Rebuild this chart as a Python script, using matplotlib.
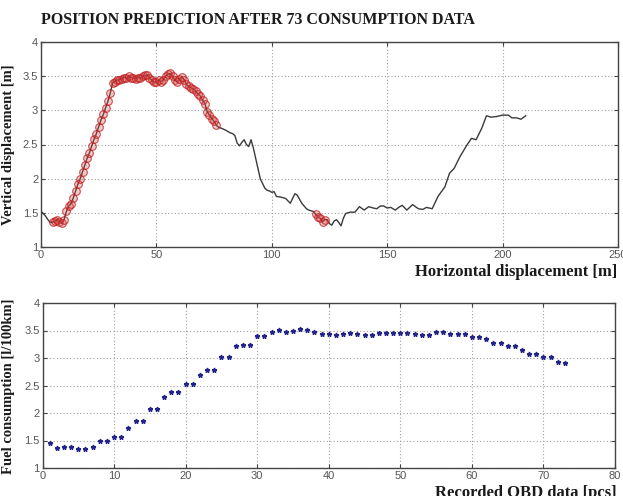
import numpy as np
import matplotlib
matplotlib.use("Agg")
import matplotlib.pyplot as plt

# ---- Top chart: trajectory (horizontal vs vertical displacement) ----
path_x = [0, 1, 2, 3, 4, 5, 6, 7, 8, 9, 10, 11, 12, 13, 14, 15, 16, 17, 18, 19,
          20, 21, 22, 23, 24, 25, 26, 27, 28, 29, 30, 31, 32, 33, 34, 35, 36, 37, 38, 39,
          40, 41, 42, 43, 44, 45, 46, 47, 48, 49, 50, 51, 52, 53, 54, 55, 56, 57, 58, 59,
          60, 61, 62, 63, 64, 65, 66, 67, 68, 69, 70, 71, 72, 73, 74, 75, 76, 77, 78, 80,
          82, 83, 84, 85, 86, 87, 88, 89, 90, 91, 92, 93, 94, 95, 96, 97, 98, 99, 100, 101,
          102, 104, 106, 108, 110, 111, 113, 115, 116, 118, 119, 120, 121, 122, 123, 124, 125, 126, 127, 128,
          129, 130, 131, 132, 133, 134, 136, 137, 138, 140, 142, 144, 145.5, 147, 148.5, 150, 151.5, 153.5, 155, 156.5,
          158.5, 161, 163.5, 165.5, 167, 169.5, 172, 175, 177, 179, 181.5, 184.5, 186.5, 188.5, 191, 193, 195, 197.5, 200, 202.5,
          204, 206, 208, 210]
path_y = [1.52, 1.49, 1.45, 1.40, 1.36, 1.36, 1.38, 1.40, 1.36, 1.35, 1.40, 1.52, 1.60, 1.63, 1.72, 1.82, 1.92, 2.00, 2.10, 2.20,
          2.30, 2.38, 2.48, 2.58, 2.66, 2.76, 2.86, 2.94, 3.04, 3.13, 3.25, 3.40, 3.42, 3.44, 3.45, 3.46, 3.48, 3.47, 3.50, 3.48,
          3.47, 3.46, 3.48, 3.47, 3.50, 3.51, 3.52, 3.48, 3.44, 3.41, 3.42, 3.44, 3.42, 3.45, 3.50, 3.53, 3.54, 3.50, 3.44, 3.42,
          3.46, 3.49, 3.45, 3.38, 3.35, 3.33, 3.31, 3.28, 3.24, 3.21, 3.15, 3.10, 2.98, 2.93, 2.88, 2.84, 2.78, 2.75, 2.74, 2.71,
          2.67, 2.66, 2.63, 2.52, 2.48, 2.53, 2.57, 2.50, 2.47, 2.57, 2.45, 2.30, 2.15, 2.00, 1.93, 1.86, 1.83, 1.82, 1.80, 1.81,
          1.74, 1.73, 1.71, 1.64, 1.78, 1.76, 1.64, 1.56, 1.54, 1.52, 1.48, 1.44, 1.42, 1.37, 1.40, 1.40, 1.34, 1.32, 1.38, 1.40,
          1.36, 1.31, 1.42, 1.49, 1.50, 1.51, 1.51, 1.55, 1.59, 1.54, 1.59, 1.57, 1.56, 1.60, 1.60, 1.57, 1.58, 1.54, 1.58, 1.61,
          1.54, 1.62, 1.56, 1.55, 1.58, 1.56, 1.74, 1.88, 2.08, 2.15, 2.32, 2.49, 2.59, 2.57, 2.74, 2.92, 2.90, 2.91, 2.93, 2.93,
          2.89, 2.89, 2.87, 2.92]

# predicted-position ranges (marked with red circles)
pred_ranges = [(5, 76), (119, 123)]

# ---- Bottom chart: fuel consumption per OBD record ----
obd_index = list(range(1, 74))
fuel = [1.46, 1.36, 1.38, 1.38, 1.35, 1.35, 1.38, 1.50, 1.50, 1.57,
        1.57, 1.73, 1.85, 1.85, 2.08, 2.08, 2.30, 2.38, 2.38, 2.53,
        2.53, 2.70, 2.78, 2.78, 3.01, 3.01, 3.21, 3.24, 3.24, 3.40,
        3.40, 3.48, 3.51, 3.47, 3.50, 3.53, 3.51, 3.47, 3.44, 3.44,
        3.41, 3.44, 3.45, 3.44, 3.41, 3.41, 3.45, 3.45, 3.45, 3.46,
        3.46, 3.44, 3.42, 3.42, 3.47, 3.47, 3.44, 3.43, 3.43, 3.38,
        3.38, 3.34, 3.28, 3.28, 3.21, 3.21, 3.14, 3.07, 3.07, 3.01,
        3.01, 2.92, 2.91]

title = "POSITION PREDICTION AFTER 73 CONSUMPTION DATA"

W, H = 623, 496
fig = plt.figure(figsize=(W / 100, H / 100), dpi=100)
fig.patch.set_facecolor("white")

serif = "Liberation Serif"
sans = "Liberation Sans"
tick_color = "#555555"


def style(ax):
    ax.grid(True, linestyle=(0, (1, 2)), color="#a0a0a0", linewidth=0.8)
    ax.tick_params(direction="in", top=True, right=True, length=3,
                   labelsize=8, labelcolor=tick_color, color="#444444", pad=2)
    for lab in ax.get_xticklabels() + ax.get_yticklabels():
        lab.set_fontfamily(sans)
    for s in ax.spines.values():
        s.set_color("#444444")
        s.set_linewidth(1.0)


ax1 = fig.add_axes([41 / W, 1 - 247 / H, (618 - 41) / W, (247 - 42) / H])
px = np.array(path_x)
py = np.array(path_y)
ax1.plot(px, py, color="#3a3a3a", lw=1.0, zorder=3)
mask = np.zeros_like(px, dtype=bool)
for a, b in pred_ranges:
    mask |= (px >= a) & (px <= b)
ax1.plot(px[mask], py[mask], linestyle="none", marker="o", ms=5.5,
         mfc=(0.85, 0.3, 0.3, 0.3), mec=(0.75, 0.1, 0.1, 0.75), mew=0.8, zorder=4)
ax1.set_xlim(0, 250)
ax1.set_ylim(1, 4)
ax1.set_xticks([0, 50, 100, 150, 200, 250])
ax1.set_yticks([1, 1.5, 2, 2.5, 3, 3.5, 4])
ax1.set_yticklabels(["1", "1.5", "2", "2.5", "3", "3.5", "4"])
style(ax1)

ax2 = fig.add_axes([42.5 / W, 1 - 468 / H, (615 - 42.5) / W, (468 - 303) / H])
ax2.plot(obd_index, fuel, linestyle="none", marker="*", ms=3.5,
         color="#23238c", zorder=3)
ax2.set_xlim(0, 80)
ax2.set_ylim(1, 4)
ax2.set_xticks(range(0, 81, 10))
ax2.set_yticks([1, 1.5, 2, 2.5, 3, 3.5, 4])
ax2.set_yticklabels(["1", "1.5", "2", "2.5", "3", "3.5", "4"])
style(ax2)

fig.text(258 / W, 1 - 20 / H, title, family=serif, weight="bold",
         fontsize=11.5, ha="center", va="center", color="#1a1a1a")
fig.text(9 / W, 1 - 145 / H, "Vertical displacement [m]", family=serif,
         weight="bold", fontsize=10.5, rotation=90, ha="center", va="center",
         color="#1a1a1a")
fig.text(9 / W, 1 - 386 / H, "Fuel consumption [l/100km]", family=serif,
         weight="bold", fontsize=10.5, rotation=90, ha="center", va="center",
         color="#1a1a1a")
fig.text(617 / W, 1 - 272 / H, "Horizontal displacement [m]", family=serif,
         weight="bold", fontsize=12, ha="right", va="center", color="#1a1a1a")
fig.text(617 / W, 1 - 493 / H, "Recorded OBD data [pcs]", family=serif,
         weight="bold", fontsize=12, ha="right", va="center", color="#1a1a1a")

fig.savefig("out.png", dpi=100, facecolor="white")
